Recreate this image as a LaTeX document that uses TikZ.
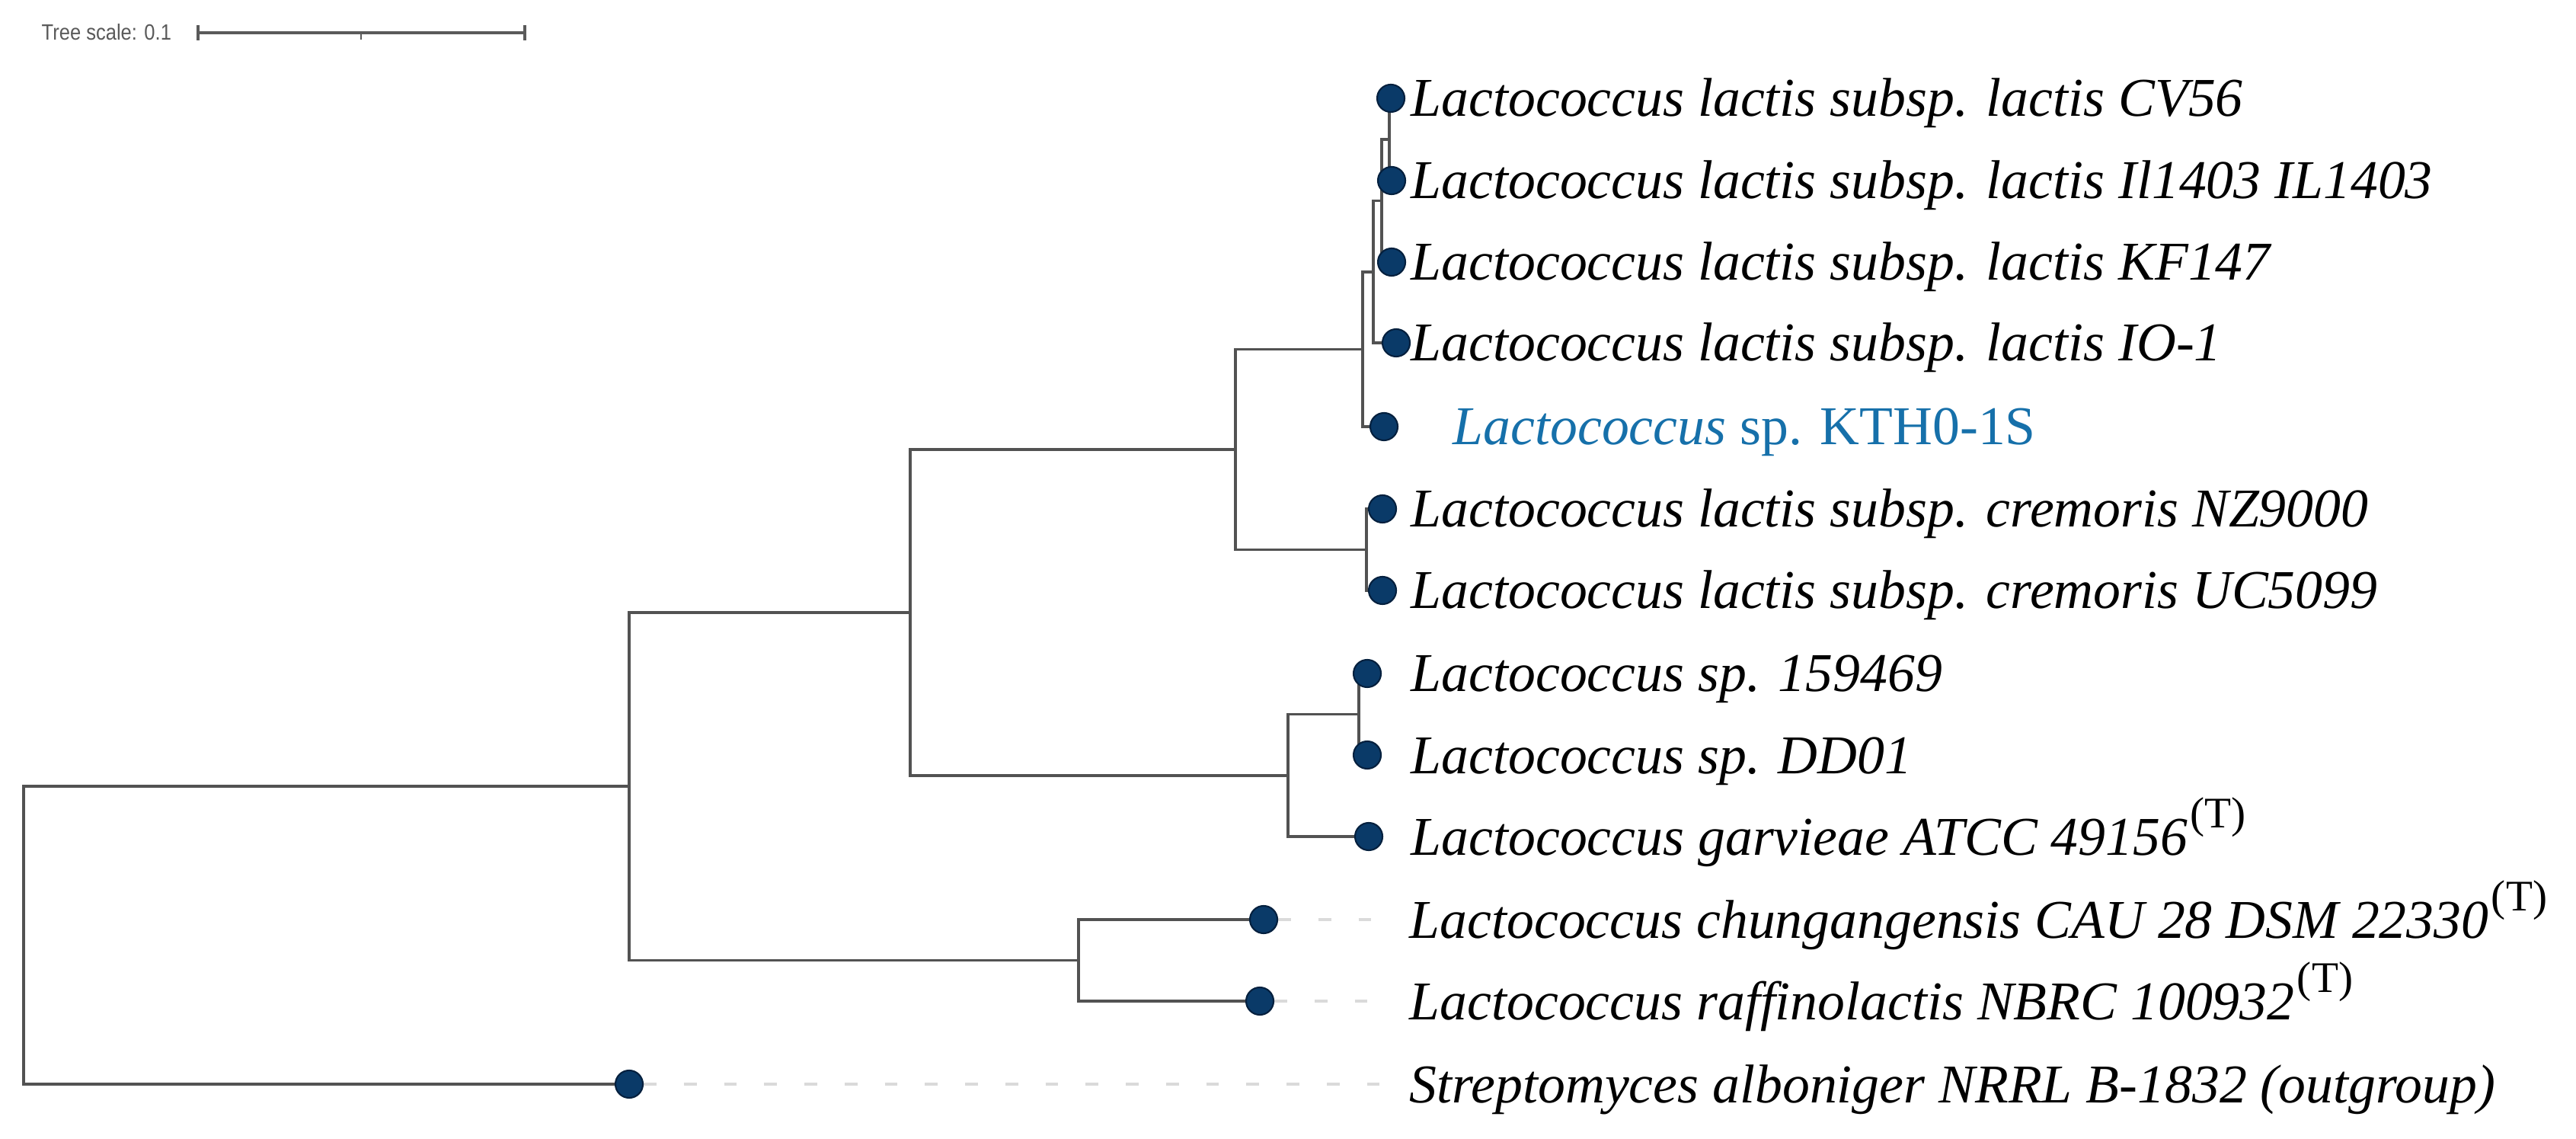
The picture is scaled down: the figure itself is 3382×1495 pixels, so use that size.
\documentclass[tikz,border=0pt]{standalone}
\usepackage{fontspec}
\setmainfont{Liberation Serif}
\newfontfamily\scalebarfont{Liberation Sans}
\usetikzlibrary{backgrounds}
\definecolor{branchgrey}{RGB}{82,82,82}
\definecolor{dotblue}{RGB}{10,58,104}
\definecolor{dotedge}{RGB}{4,32,62}
\definecolor{kthblue}{RGB}{22,112,170}
\definecolor{dashgrey}{RGB}{218,218,218}
\definecolor{scalegrey}{RGB}{90,90,90}
\newcommand{\typemark}{\kern1pt\raisebox{0.355cm}{\fontsize{16.3}{16.3}\selectfont\upshape(T)}}
\begin{document}
\begin{tikzpicture}[x=0.01cm,y=-0.01cm,
  branch/.style={draw=branchgrey, line width=1pt},
  leafdot/.style={circle, fill=dotblue, draw=dotedge, line width=0.6pt, minimum size=0.36cm, inner sep=0pt},
  lab/.style={anchor=base west, inner sep=0pt, font=\fontsize{20.4}{24}\selectfont\itshape},
  dashline/.style={draw=dashgrey, line width=1pt, dash pattern=on 4.8pt off 10.2pt},
  scalebar/.style={draw=scalegrey, line width=1.3pt}]
\begin{scope}[on background layer]
\fill[white] (0,0) rectangle (3382,1495);
\end{scope}
\useasboundingbox (0,0) rectangle (3382,1495);

% tree scale
\node[anchor=base west, inner sep=0pt, text=scalegrey, font=\scalebarfont\fontsize{8.25}{9}\selectfont] (ts) at (54,53) {\scalebox{0.88}[1]{Tree scale: 0.1}};
\coordinate (sb1) at (260,43);
\coordinate (sb2) at (689,43);
\coordinate (sbm) at (474,43);
\draw[scalebar] (sb1) -- (sb2);
\draw[scalebar] (sb1) ++(0,-10) -- ++(0,20);
\draw[scalebar] (sb2) ++(0,-10) -- ++(0,20);
\draw[scalegrey, line width=0.6pt] (sbm) -- ++(0,9);

% internal nodes
\coordinate (R)  at (31,1227.5);
\coordinate (N1) at (826,1032);
\coordinate (N2) at (1195,804);
\coordinate (N5) at (1416,1260.5);
\coordinate (N4) at (1622,590);
\coordinate (N3) at (1691,1017.75);
\coordinate (Nd) at (1789,458.5);
\coordinate (Ne) at (1794,721.5);
\coordinate (Nc) at (1803,357);
\coordinate (Nb) at (1814,263.5);
\coordinate (Na) at (1824,183);
\coordinate (Nf) at (1784,937.5);

% leaves
\node[leafdot] (L1)  at (1826,129) {};
\node[leafdot] (L2)  at (1827,237) {};
\node[leafdot] (L3)  at (1827,344) {};
\node[leafdot] (L4)  at (1833,450) {};
\node[leafdot] (L5)  at (1817,560) {};
\node[leafdot] (L6)  at (1815,668) {};
\node[leafdot] (L7)  at (1815,775) {};
\node[leafdot] (L8)  at (1795,884) {};
\node[leafdot] (L9)  at (1795,991) {};
\node[leafdot] (L10) at (1797,1098) {};
\node[leafdot] (L11) at (1659,1207) {};
\node[leafdot] (L12) at (1654,1314) {};
\node[leafdot] (L13) at (826,1423) {};

% labels
\node[lab] (T1)  at (1852,153)  {Lactococcus lactis subsp. lactis CV56};
\node[lab] (T2)  at (1852,261)  {Lactococcus lactis subsp. lactis Il1403 IL1403};
\node[lab] (T3)  at (1852,368)  {Lactococcus lactis subsp. lactis KF147};
\node[lab] (T4)  at (1852,474)  {Lactococcus lactis subsp. lactis IO-1};
\node[lab, text=kthblue, font=\fontsize{20.4}{24}\selectfont\upshape] (T5) at (1907,584) {\textit{Lactococcus} sp. KTH0-1S};
\node[lab] (T6)  at (1852,692)  {Lactococcus lactis subsp. cremoris NZ9000};
\node[lab] (T7)  at (1852,799)  {Lactococcus lactis subsp. cremoris UC5099};
\node[lab] (T8)  at (1852,908)  {Lactococcus sp. 159469};
\node[lab] (T9)  at (1852,1015) {Lactococcus sp. DD01};
\node[lab] (T10) at (1852,1122) {Lactococcus garvieae ATCC 49156\typemark};
\node[lab] (T11) at (1850,1231) {Lactococcus chungangensis CAU 28 DSM 22330\typemark};
\node[lab] (T12) at (1850,1338) {Lactococcus raffinolactis NBRC 100932\typemark};
\node[lab] (T13) at (1850,1447) {Streptomyces alboniger NRRL B-1832 (outgroup)};

\begin{scope}[on background layer]
% dashed leaders
\draw[dashline] (L11.east) -- ([xshift=-8]L11 -| T11.west);
\draw[dashline] (L12.east) -- ([xshift=-8]L12 -| T12.west);
\draw[dashline] (L13.east) -- ([xshift=-8]L13 -| T13.west);
% branches
\draw[branch] (R) |- (N1);
\draw[branch] (R) |- (L13.center);
\draw[branch] (N1) |- (N2);
\draw[branch] (N1) |- (N5);
\draw[branch] (N2) |- (N4);
\draw[branch] (N2) |- (N3);
\draw[branch] (N4) |- (Nd);
\draw[branch] (N4) |- (Ne);
\draw[branch] (Nd) |- (Nc);
\draw[branch] (Nd) |- (L5.center);
\draw[branch] (Nc) |- (Nb);
\draw[branch] (Nc) |- (L4.center);
\draw[branch] (Nb) |- (Na);
\draw[branch] (Nb) |- (L3.center);
\draw[branch] (Na) |- (L1.center);
\draw[branch] (Na) |- (L2.center);
\draw[branch] (Ne) |- (L6.center);
\draw[branch] (Ne) |- (L7.center);
\draw[branch] (N3) |- (Nf);
\draw[branch] (N3) |- (L10.center);
\draw[branch] (Nf) |- (L8.center);
\draw[branch] (Nf) |- (L9.center);
\draw[branch] (N5) |- (L11.center);
\draw[branch] (N5) |- (L12.center);
\end{scope}
\end{tikzpicture}
\end{document}
